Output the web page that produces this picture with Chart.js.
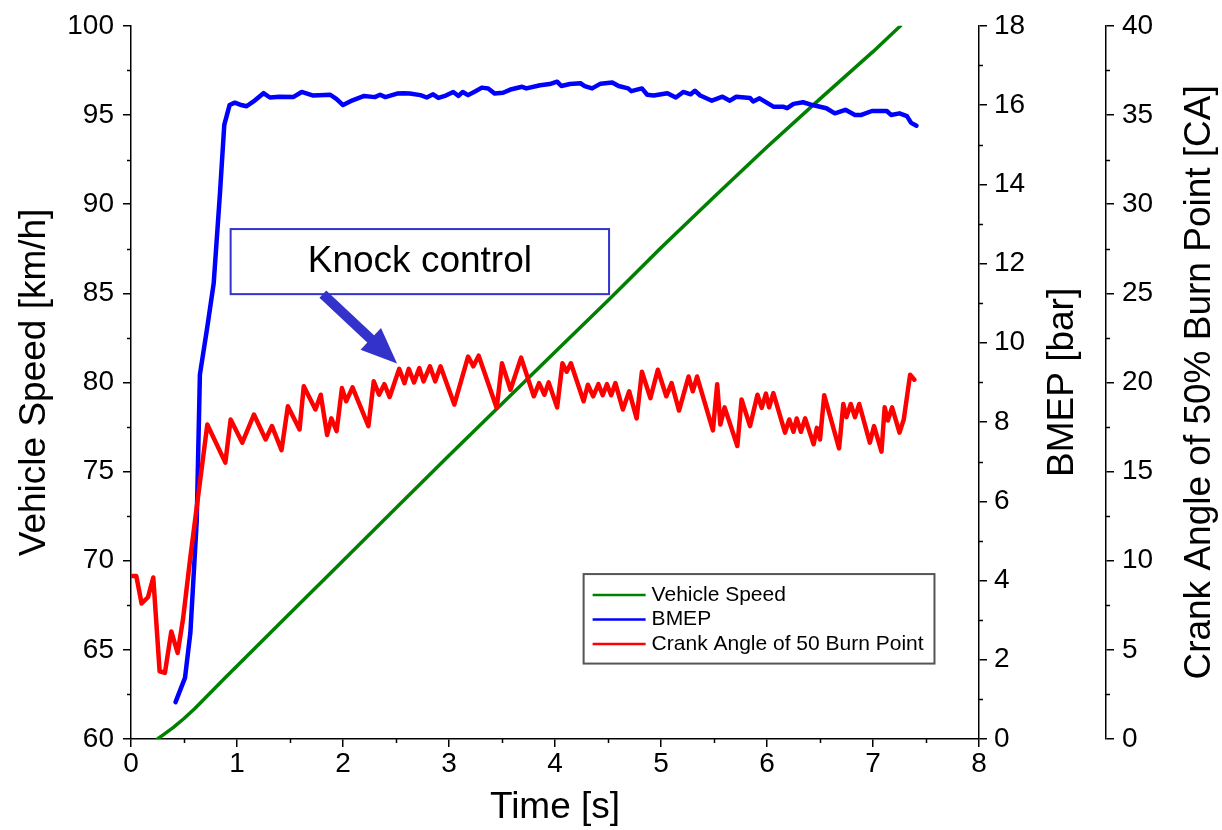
<!DOCTYPE html>
<html>
<head>
<meta charset="utf-8">
<title>Knock control</title>
<script src="https://cdn.jsdelivr.net/npm/chart.js@4.4.1/dist/chart.umd.min.js"></script>
<style>
  html, body { margin: 0; padding: 0; background: #fff; }
  #wrap { width: 1222px; height: 830px; }
</style>
</head>
<body>
<div id="wrap"><canvas id="chart" width="1222" height="830"></canvas></div>
<script>
// series labels
const seriesNames = ["Vehicle Speed", "BMEP", "Crank Angle of 50 Burn Point"];

// vehicle speed [km/h] vs time [s]
const speedTime = [0.25, 0.32, 0.4, 0.5, 0.6, 0.7, 0.8, 0.9, 1.0, 1.5, 2.0, 2.5, 3.0, 3.5, 4.0, 4.5, 5.0, 5.5, 6.0, 6.5, 7.0, 7.26];
const speedKmh = [60.0, 60.3, 60.65, 61.15, 61.7, 62.3, 62.9, 63.5, 64.1, 67.05, 70.0, 72.95, 75.9, 78.8, 81.7, 84.6, 87.55, 90.4, 93.2, 95.9, 98.55, 100.0];

// BMEP [bar] vs time [s]
const bmepTime = [0.42, 0.51, 0.56, 0.62, 0.65, 0.72, 0.78, 0.84, 0.88, 0.93, 0.98, 1.04, 1.09, 1.17, 1.25, 1.31, 1.4, 1.53, 1.61, 1.72, 1.88, 1.94, 2.0, 2.09, 2.2, 2.3, 2.35, 2.4, 2.51, 2.57, 2.63, 2.73, 2.79, 2.85, 2.9, 2.97, 3.04, 3.09, 3.13, 3.18, 3.25, 3.31, 3.37, 3.43, 3.51, 3.59, 3.69, 3.73, 3.86, 3.95, 4.02, 4.06, 4.14, 4.24, 4.28, 4.35, 4.43, 4.54, 4.6, 4.69, 4.72, 4.82, 4.87, 4.93, 5.06, 5.14, 5.21, 5.28, 5.32, 5.37, 5.48, 5.58, 5.65, 5.71, 5.84, 5.87, 5.93, 6.06, 6.15, 6.19, 6.25, 6.34, 6.43, 6.56, 6.64, 6.74, 6.83, 6.89, 6.99, 7.13, 7.17, 7.25, 7.32, 7.36, 7.41];
const bmepBar = [0.93, 1.55, 2.68, 5.5, 9.2, 10.4, 11.5, 13.8, 15.5, 16.0, 16.06, 16.0, 15.97, 16.12, 16.3, 16.19, 16.21, 16.2, 16.33, 16.24, 16.26, 16.15, 16.0, 16.12, 16.23, 16.2, 16.26, 16.2, 16.29, 16.3, 16.29, 16.25, 16.19, 16.27, 16.18, 16.24, 16.33, 16.23, 16.33, 16.25, 16.35, 16.44, 16.42, 16.29, 16.31, 16.4, 16.46, 16.42, 16.5, 16.53, 16.59, 16.48, 16.53, 16.55, 16.48, 16.42, 16.54, 16.57, 16.48, 16.42, 16.35, 16.42, 16.26, 16.24, 16.3, 16.19, 16.33, 16.27, 16.36, 16.24, 16.11, 16.21, 16.11, 16.21, 16.18, 16.09, 16.17, 15.96, 15.96, 15.92, 16.03, 16.07, 16.0, 15.92, 15.79, 15.88, 15.75, 15.75, 15.85, 15.85, 15.75, 15.79, 15.72, 15.55, 15.48];

// crank angle of 50% burn point [CA] vs time [s]
const crankTime = [0, 0.05, 0.1, 0.16, 0.21, 0.27, 0.32, 0.38, 0.44, 0.49, 0.56, 0.62, 0.72, 0.89, 0.94, 1.05, 1.16, 1.27, 1.33, 1.42, 1.48, 1.59, 1.63, 1.74, 1.79, 1.85, 1.89, 1.94, 1.99, 2.03, 2.09, 2.24, 2.29, 2.34, 2.39, 2.44, 2.53, 2.58, 2.62, 2.67, 2.72, 2.76, 2.82, 2.87, 2.92, 3.05, 3.18, 3.23, 3.28, 3.45, 3.5, 3.58, 3.68, 3.8, 3.85, 3.9, 3.94, 4.02, 4.07, 4.11, 4.15, 4.27, 4.31, 4.36, 4.41, 4.45, 4.49, 4.53, 4.57, 4.64, 4.7, 4.77, 4.82, 4.9, 4.97, 5.05, 5.1, 5.17, 5.26, 5.3, 5.34, 5.49, 5.53, 5.56, 5.6, 5.72, 5.76, 5.84, 5.91, 5.95, 5.99, 6.02, 6.06, 6.17, 6.21, 6.25, 6.28, 6.32, 6.36, 6.44, 6.47, 6.5, 6.54, 6.68, 6.72, 6.75, 6.79, 6.83, 6.87, 6.97, 7.01, 7.08, 7.11, 7.14, 7.18, 7.25, 7.29, 7.35, 7.39];
const crankDeg = [9.14, 9.14, 7.6, 7.95, 9.06, 3.8, 3.71, 6.03, 4.83, 6.69, 10.2, 13.0, 17.64, 15.5, 17.92, 16.62, 18.2, 16.8, 17.55, 16.2, 18.66, 17.36, 19.78, 18.48, 19.31, 17.05, 17.98, 17.27, 19.68, 18.94, 19.72, 17.55, 20.06, 19.31, 19.9, 19.18, 20.76, 19.96, 20.76, 20.0, 20.8, 20.06, 20.9, 20.06, 20.9, 18.76, 21.45, 20.9, 21.5, 18.57, 21.07, 19.59, 21.39, 19.22, 19.96, 19.31, 20.0, 18.6, 21.07, 20.6, 21.07, 18.94, 19.87, 19.22, 19.9, 19.28, 19.9, 19.28, 19.96, 18.48, 19.5, 17.98, 20.6, 19.12, 20.71, 19.22, 19.96, 18.42, 20.33, 19.5, 20.33, 17.31, 19.9, 17.64, 18.6, 16.43, 19.04, 17.55, 19.31, 18.57, 19.37, 18.6, 19.4, 17.18, 17.92, 17.23, 17.98, 17.23, 17.98, 16.53, 17.45, 16.8, 19.28, 16.3, 18.79, 18.05, 18.79, 18.05, 18.79, 16.62, 17.55, 16.12, 18.6, 17.86, 18.6, 17.18, 17.92, 20.43, 20.15];

const FONT = "'Liberation Sans', Arial, sans-serif";

function pairs(xs, ys) {
  return xs.map((x, i) => ({ x: x, y: ys[i] }));
}

// minor tick steps, drawn between the major ticks
const minorSteps = { x: 0.5, y: 2.5, y1: 1, y2: 2.5 };

const minorTicks = {
  id: "minorTicks",
  afterDraw(chart) {
    const ctx = chart.ctx;
    ctx.save();
    ctx.strokeStyle = "#000";
    ctx.lineWidth = 1.5;
    for (const id in minorSteps) {
      const s = chart.scales[id];
      const step = minorSteps[id];
      for (let v = s.min + step; v < s.max; v += 2 * step) {
        const p = Math.round(s.getPixelForValue(v)) + 0.5;
        ctx.beginPath();
        if (id === "x") {
          ctx.moveTo(p, s.top);
          ctx.lineTo(p, s.top + 4);
        } else if (s.position === "left") {
          ctx.moveTo(s.right - 4, p);
          ctx.lineTo(s.right, p);
        } else {
          ctx.moveTo(s.left, p);
          ctx.lineTo(s.left + 4, p);
        }
        ctx.stroke();
      }
    }
    ctx.restore();
  }
};

// titles of the two right axes read bottom to top
const rightTitles = {
  id: "rightTitles",
  afterDraw(chart) {
    const ctx = chart.ctx;
    const a = chart.chartArea;
    const cy = (a.top + a.bottom) / 2;
    ctx.save();
    ctx.fillStyle = "#000";
    ctx.font = "37px " + FONT;
    ctx.textAlign = "center";
    ctx.textBaseline = "middle";
    [["BMEP [bar]", chart.scales.y1.right - 43], ["Crank Angle of 50% Burn Point [CA]", chart.scales.y2.right - 22]].forEach(([t, x]) => {
      ctx.save();
      ctx.translate(x, cy);
      ctx.rotate(-Math.PI / 2);
      ctx.fillText(t, 0, 0);
      ctx.restore();
    });
    ctx.restore();
  }
};

// "Knock control" call-out and the legend box
const callout = { t0: 0.94, t1: 4.51, v0: 88.6, v1: 84.95, tailT: 1.81, tailV: 84.95, tipT: 2.51, tipV: 81.06 };
const legendBox = { t0: 4.27, t1: 7.58, v0: 69.25, v1: 64.23 };

const annotations = {
  id: "annotations",
  afterDatasetsDraw(chart) {
    const ctx = chart.ctx;
    const xs = chart.scales.x, ys = chart.scales.y;
    ctx.save();

    // knock box
    const bx0 = xs.getPixelForValue(callout.t0), bx1 = xs.getPixelForValue(callout.t1);
    const by0 = ys.getPixelForValue(callout.v0), by1 = ys.getPixelForValue(callout.v1);
    ctx.fillStyle = "#fff";
    ctx.fillRect(bx0, by0, bx1 - bx0, by1 - by0);
    ctx.strokeStyle = "#3333cc";
    ctx.lineWidth = 2;
    ctx.strokeRect(bx0, by0, bx1 - bx0, by1 - by0);
    ctx.fillStyle = "#000";
    ctx.font = "37px " + FONT;
    ctx.textAlign = "center";
    ctx.textBaseline = "middle";
    ctx.fillText("Knock control", (bx0 + bx1) / 2, (by0 + by1) / 2);

    // arrow
    const ax = xs.getPixelForValue(callout.tailT), ay = ys.getPixelForValue(callout.tailV);
    const tx = xs.getPixelForValue(callout.tipT), ty = ys.getPixelForValue(callout.tipV);
    const len = Math.hypot(tx - ax, ty - ay);
    const ux = (tx - ax) / len, uy = (ty - ay) / len;
    const head = 36, half = 15;
    const hx = tx - ux * head, hy = ty - uy * head;
    ctx.strokeStyle = "#3333cc";
    ctx.fillStyle = "#3333cc";
    ctx.lineWidth = 10;
    ctx.beginPath();
    ctx.moveTo(ax, ay);
    ctx.lineTo(hx + ux * 2, hy + uy * 2);
    ctx.stroke();
    ctx.beginPath();
    ctx.moveTo(tx, ty);
    ctx.lineTo(hx - uy * half, hy + ux * half);
    ctx.lineTo(hx + uy * half, hy - ux * half);
    ctx.closePath();
    ctx.fill();

    // legend
    const lx0 = xs.getPixelForValue(legendBox.t0), lx1 = xs.getPixelForValue(legendBox.t1);
    const ly0 = ys.getPixelForValue(legendBox.v0), ly1 = ys.getPixelForValue(legendBox.v1);
    ctx.fillStyle = "#fff";
    ctx.fillRect(lx0, ly0, lx1 - lx0, ly1 - ly0);
    ctx.strokeStyle = "#555";
    ctx.lineWidth = 2;
    ctx.strokeRect(lx0, ly0, lx1 - lx0, ly1 - ly0);
    ctx.font = "21px " + FONT;
    ctx.textAlign = "left";
    chart.data.datasets.forEach((ds, i) => {
      const ry = ly0 + 21 + i * 24.5;
      ctx.strokeStyle = ds.borderColor;
      ctx.lineWidth = 2.5;
      ctx.beginPath();
      ctx.moveTo(lx0 + 9, ry);
      ctx.lineTo(lx0 + 62, ry);
      ctx.stroke();
      ctx.fillStyle = "#000";
      ctx.fillText(ds.label, lx0 + 68, ry);
    });
    ctx.restore();
  }
};

function axisStyle() {
  return {
    grid: { drawOnChartArea: false, drawTicks: true, tickLength: 8, color: "#000", lineWidth: 1.5 },
    border: { color: "#000", width: 1.5 }
  };
}

const ctx = document.getElementById("chart");
new Chart(ctx, {
  type: "line",
  data: {
    datasets: [
      { label: seriesNames[0], data: pairs(speedTime, speedKmh), yAxisID: "y", borderColor: "#008000", borderWidth: 3.5, order: 2 },
      { label: seriesNames[1], data: pairs(bmepTime, bmepBar), yAxisID: "y1", borderColor: "#0000ff", borderWidth: 4.5, order: 1 },
      { label: seriesNames[2], data: pairs(crankTime, crankDeg), yAxisID: "y2", borderColor: "#ff0000", borderWidth: 4.5, order: 0 }
    ]
  },
  options: {
    responsive: false,
    animation: false,
    parsing: true,
    layout: { padding: { top: 22, left: 0, right: 0, bottom: 0 } },
    elements: {
      point: { radius: 0 },
      line: { tension: 0, borderJoinStyle: "round", borderCapStyle: "round", fill: false }
    },
    plugins: { legend: { display: false }, tooltip: { enabled: false } },
    scales: {
      x: {
        type: "linear", position: "bottom", min: 0, max: 8,
        ticks: { stepSize: 1, color: "#000", font: { family: FONT, size: 28 }, padding: 0, maxRotation: 0 },
        title: { display: true, text: "Time [s]", color: "#000", font: { family: FONT, size: 37 }, padding: 0 },
        afterFit(s) { s.height = 91; },
        ...axisStyle()
      },
      y: {
        type: "linear", position: "left", min: 60, max: 100,
        ticks: { stepSize: 5, color: "#000", font: { family: FONT, size: 28 }, padding: 9 },
        title: { display: true, text: "Vehicle Speed [km/h]", color: "#000", font: { family: FONT, size: 37 }, padding: { top: 13, bottom: 0 } },
        afterFit(s) { s.width = 131; },
        ...axisStyle()
      },
      y1: {
        type: "linear", position: "right", min: 0, max: 18, weight: 0,
        ticks: { stepSize: 2, color: "#000", font: { family: FONT, size: 28 }, padding: 7 },
        afterFit(s) { s.width = 127; },
        ...axisStyle()
      },
      y2: {
        type: "linear", position: "right", min: 0, max: 40, weight: 1,
        ticks: { stepSize: 5, color: "#000", font: { family: FONT, size: 28 }, padding: 8 },
        afterFit(s) { s.width = 116; },
        ...axisStyle()
      }
    }
  },
  plugins: [minorTicks, rightTitles, annotations]
});
</script>
</body>
</html>
